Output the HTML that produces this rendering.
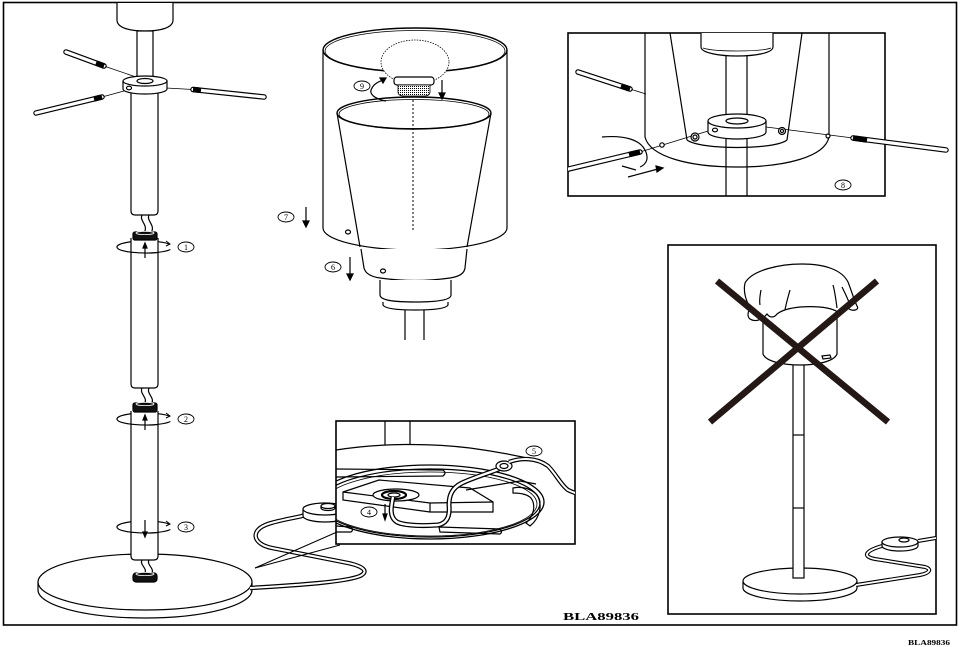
<!DOCTYPE html>
<html><head><meta charset="utf-8"><style>
html,body{margin:0;padding:0;background:#fff;}
svg{display:block;}
.t{font-family:"Liberation Serif",serif;}
</style></head><body>
<svg width="960" height="647" viewBox="0 0 960 647" xmlns="http://www.w3.org/2000/svg">
<defs>
<pattern id="dots" width="2" height="2" patternUnits="userSpaceOnUse"><rect width="2" height="2" fill="#fff"/><rect width="1" height="1" fill="#000"/></pattern>
<clipPath id="cB"><rect x="336" y="421" width="239" height="123"/></clipPath>
<clipPath id="cTR"><rect x="568" y="33" width="317" height="163"/></clipPath>
<clipPath id="cX"><rect x="668" y="245" width="268" height="369"/></clipPath>
</defs>
<rect width="960" height="647" fill="#fff"/>
<!-- outer frame -->
<rect x="3.5" y="2.5" width="953" height="622.5" fill="none" stroke="#000" stroke-width="1.6"/>

<g stroke="#000" stroke-width="1.2" fill="none">
<!-- ===== LEFT COLUMN ===== -->
<path d="M117,3 V20 C117,28 130,31 145,31 C160,31 173,28 173,20 V3" fill="#fff"/>
<rect x="137" y="31" width="16" height="48" fill="#fff"/>
<line x1="104" y1="66" x2="136" y2="77" stroke-width="0.8"/>
<line x1="102" y1="97" x2="124" y2="91" stroke-width="0.8"/>
<line x1="166" y1="88" x2="193" y2="89.5" stroke-width="0.8"/>
<g stroke-linecap="round">
<line x1="66" y1="52" x2="104" y2="66" stroke-width="5.5"/><line x1="66" y1="52" x2="104" y2="66" stroke="#fff" stroke-width="3.2"/>
<line x1="36" y1="113" x2="102" y2="97" stroke-width="5.5"/><line x1="36" y1="113" x2="102" y2="97" stroke="#fff" stroke-width="3.2"/>
<line x1="193" y1="89.5" x2="264" y2="97" stroke-width="5.5"/><line x1="193" y1="89.5" x2="264" y2="97" stroke="#fff" stroke-width="3.2"/>
</g>
<line x1="96" y1="63" x2="104" y2="66" stroke-width="5.5"/>
<line x1="94" y1="99" x2="102" y2="97" stroke-width="5.5"/>
<line x1="193" y1="89.5" x2="201" y2="90.4" stroke-width="5.5"/>
<!-- tube 1 -->
<path d="M131,93 V211 Q131,215 135,215 H154 Q158,215 158,211 V93" fill="#fff"/>
<!-- collar -->
<path d="M123,81 V89 A22,5 0 0 0 167,89 V81" fill="#fff"/>
<ellipse cx="145" cy="81" rx="22" ry="5" fill="#fff"/>
<ellipse cx="145" cy="81" rx="8" ry="2.5"/>
<ellipse cx="129" cy="88" rx="2.5" ry="1.8"/>
<!-- wire 1 -->
<path d="M142,215 C139,221 149,225 144,233"/><path d="M149,215 C146,221 156,225 151,233"/>
<!-- rotation arcs (behind tubes) -->
<path d="M169.2,244 A28,6 0 1 0 170.4,249.5"/>
<path d="M169.2,416 A28,6 0 1 0 170.4,421.5"/>
<!-- tube 2 -->
<path d="M131,238 V384 Q131,388 135,388 H154 Q158,388 158,384 V238" fill="#fff"/>
<rect x="133" y="232" width="24" height="8" rx="2" fill="#111"/>
<ellipse cx="145" cy="233" rx="9" ry="1.6" stroke="#fff" stroke-width="0.8"/>
<path d="M131,252.2 Q145,253.8 158,252.5"/>
<path d="M166,241 L170,244 L166,246" stroke-width="1"/>
<line x1="145" y1="258" x2="145" y2="247"/><polygon points="143,248 145,243 147,248" fill="#000"/>
<!-- wire 2 -->
<path d="M142,388 C139,394 149,398 144,404"/><path d="M149,388 C146,394 156,398 151,404"/>
<!-- base -->
<path d="M38,582 V590 A107,28 0 0 0 252,590 V582" fill="#fff"/>
<ellipse cx="145" cy="582" rx="107" ry="28" fill="#fff"/>
<path d="M169.2,524 A28,6 0 1 0 170.4,529.5"/>
<!-- tube 3 -->
<path d="M131,411 V556 Q131,560 135,560 H154 Q158,560 158,556 V411" fill="#fff"/>
<rect x="133" y="403" width="24" height="9" rx="2" fill="#111"/>
<ellipse cx="145" cy="404" rx="9" ry="1.6" stroke="#fff" stroke-width="0.8"/>
<path d="M131,424.2 Q145,425.8 158,424.5"/>
<path d="M166,413 L170,416 L166,418" stroke-width="1"/>
<line x1="145" y1="430" x2="145" y2="419"/><polygon points="143,420 145,415 147,420" fill="#000"/>
<path d="M131,532.2 Q145,533.8 158,532.5"/>
<path d="M166,521 L170,524 L166,526" stroke-width="1"/>
<line x1="145" y1="520" x2="145" y2="533"/><polygon points="143,532 145,537 147,532" fill="#000"/>
<!-- wire 3 + cap -->
<path d="M142,560 C139,565 149,569 144,574"/><path d="M149,560 C146,565 156,569 151,574"/>
<rect x="133" y="573" width="24" height="9" rx="3" fill="#111"/>
<ellipse cx="145" cy="574" rx="9" ry="1.6" stroke="#fff" stroke-width="0.8"/>
<!-- cable to switch -->
<path d="M250,588 C300,585 345,582 360,576 C370,571 362,566 348,563 L272,548 C252,544 250,530 268,524 C280,520 295,518 306,515" stroke-width="4.4"/>
<path d="M250,588 C300,585 345,582 360,576 C370,571 362,566 348,563 L272,548 C252,544 250,530 268,524 C280,520 295,518 306,515" stroke="#fff" stroke-width="2"/>
<!-- switch -->
<path d="M303,509 V516 A22,6 0 0 0 347,516 V509" fill="#fff"/>
<ellipse cx="325" cy="509" rx="22" ry="6" fill="#fff"/>
<path d="M321,506 V508 A7,2.5 0 0 0 335,508 V506" fill="#fff"/>
<ellipse cx="328" cy="506" rx="7" ry="2.5" fill="#fff"/>
<line x1="255" y1="568" x2="337" y2="532" stroke-width="1"/>
<line x1="255" y1="568" x2="340" y2="545" stroke-width="1"/>

<!-- ===== BOTTOM INSET ===== -->
<rect x="336" y="421" width="239" height="123" fill="#fff" stroke-width="1.6"/>
<g clip-path="url(#cB)">
<line x1="385" y1="421" x2="385" y2="445"/><line x1="410" y1="421" x2="410" y2="445"/>
<path d="M336,450 C380,443 430,443 470,448 C500,452 520,456 545,462"/>
<ellipse cx="430" cy="502" rx="114" ry="37" stroke-width="1.3"/>
<ellipse cx="430" cy="503" rx="110" ry="34"/>
<ellipse cx="430" cy="504" rx="107" ry="32" stroke-width="0.8"/>
<path d="M336,469 L443,470 Q447,473 443,476 L336,477"/>
<path d="M513,488 C522,486 532,489 537,495 C543,505 540,518 530,526 L526,523 C534,516 536,505 531,498 C527,494 520,493 513,493 Z"/>
<path d="M439,527 L500,529 Q503,532 500,534 L440,532 Z"/>
<path d="M336,526 L351,527 Q354,530 351,532 L336,532"/>
<polygon points="343,492 379,480 470,488 493,502 493,512 430,512 343,500" fill="#fff"/>
<path d="M343,492 L430,503 L493,502 M430,503 V512"/>
<path d="M466,490 L520,481 L536,484"/>
<ellipse cx="396" cy="495" rx="23" ry="6" fill="#fff"/>
<ellipse cx="394" cy="495" rx="12" ry="4" fill="#fff" stroke-width="2.2"/>
<ellipse cx="394" cy="495" rx="6" ry="2"/>
<path d="M393,497 C391,507 389,517 397,522 C405,526 425,526 438,525 C448,523 450,515 449,505 C449,495 452,488 462,483 C475,477 492,472 504,467" stroke-width="5"/>
<path d="M393,497 C391,507 389,517 397,522 C405,526 425,526 438,525 C448,523 450,515 449,505 C449,495 452,488 462,483 C475,477 492,472 504,467" stroke="#fff" stroke-width="2.4"/>
<ellipse cx="504" cy="466" rx="8" ry="5" fill="#fff"/>
<ellipse cx="504" cy="466" rx="4" ry="2.5"/>
<path d="M509,462 C520,458 536,457 548,466 C556,474 561,485 568,490 C572,492 575,493 578,494" stroke-width="4.4"/>
<path d="M509,462 C520,458 536,457 548,466 C556,474 561,485 568,490 C572,492 575,493 578,494" stroke="#fff" stroke-width="2"/>
<line x1="385" y1="504" x2="385" y2="515"/><polygon points="383,514 385,520 387,514" fill="#000"/>
</g>

<!-- ===== CENTER LAMP ===== -->
<path d="M323,50 V228 A92,22 0 0 0 507,228 V50" fill="#fff"/>
<ellipse cx="415" cy="50" rx="92" ry="22" stroke-width="1.4"/>
<ellipse cx="415" cy="51" rx="90" ry="20.5" stroke-width="0.8"/>
<ellipse cx="415" cy="62" rx="34" ry="22" fill="#fff" stroke-width="0.8" stroke-dasharray="1.5 1.2"/>
<line x1="337" y1="113" x2="360" y2="247"/>
<line x1="491" y1="113" x2="467" y2="247"/>
<ellipse cx="414" cy="113" rx="77" ry="16" stroke-width="1.4"/>
<ellipse cx="414" cy="114" rx="75" ry="14.5" stroke-width="0.8"/>
<rect x="394" y="77" width="40" height="8" rx="3" fill="#fff"/>
<path d="M398,85 H430 V92 Q430,96 424,96 H404 Q398,96 398,92 Z" fill="url(#dots)" stroke-width="0.8"/>
<line x1="413" y1="100" x2="413" y2="230" stroke-dasharray="2 2" stroke-width="1"/>
<path d="M361,249 L364,268 Q366,276 380,278 Q415,283 450,278 Q464,276 465,268 L467,249" fill="#fff"/>
<path d="M380,280 V295 C380,300 392,302 415,302 C438,302 451,300 451,295 V280" fill="#fff"/>
<path d="M383,302 V305 C385,309 400,310 415,310 C430,310 446,309 448,305 V302"/>
<line x1="405" y1="310" x2="405" y2="340"/><line x1="424" y1="310" x2="424" y2="340"/>
<ellipse cx="348" cy="232" rx="2.5" ry="2"/>
<ellipse cx="383" cy="271" rx="2.5" ry="2"/>
<path d="M386,101 C375,99 368,94 372,88 C374,84 378,82 383,80"/>
<polygon points="380,78 386,78 383,83" fill="#000"/>
<line x1="442" y1="80" x2="442" y2="94"/><polygon points="439,93 442,99 445,93" fill="#000"/>
<line x1="306" y1="207" x2="306" y2="222"/><polygon points="303,221 306,227 309,221" fill="#000"/>
<line x1="350" y1="257" x2="350" y2="275"/><polygon points="347,274 350,280 353,274" fill="#000"/>

<!-- ===== TOP RIGHT INSET ===== -->
<rect x="568" y="33" width="317" height="163" fill="#fff" stroke-width="1.6"/>
<g clip-path="url(#cTR)">
<path d="M645,33 V137 C650,157 690,167 737,167 C785,167 825,157 829,137 V33"/>
<line x1="670" y1="33" x2="687" y2="140"/><line x1="802" y1="33" x2="787" y2="140"/>
<path d="M687,140 C700,150 775,150 787,140"/>
<path d="M701,33 V47 C701,53 720,56 737,56 C755,56 773,53 773,47 V33" fill="#fff"/>
<path d="M703,48 C715,52 760,52 771,48" stroke-width="0.8"/>
<line x1="726" y1="56" x2="726" y2="118"/><line x1="747" y1="56" x2="747" y2="118"/>
<line x1="726" y1="137" x2="726" y2="196"/><line x1="747" y1="137" x2="747" y2="196"/>
<line x1="630" y1="89" x2="646" y2="94" stroke-width="0.8"/>
<line x1="640" y1="152" x2="708" y2="131" stroke-width="0.8"/>
<line x1="766" y1="127" x2="853" y2="138" stroke-width="0.8"/>
<path d="M708,121 V132 A29,7 0 0 0 766,132 V121" fill="#fff"/>
<ellipse cx="737" cy="121" rx="29" ry="7" fill="#fff"/>
<ellipse cx="737" cy="121" rx="11" ry="3"/>
<ellipse cx="715" cy="130" rx="2.5" ry="1.8"/>
<circle cx="662" cy="145" r="2.2" fill="#fff"/>
<circle cx="695" cy="137" r="4" fill="#fff"/><circle cx="695" cy="137" r="2"/>
<circle cx="782" cy="131" r="3.5" fill="#fff"/><circle cx="782" cy="131" r="1.6"/>
<circle cx="828" cy="136" r="2" fill="#fff"/>
<g stroke-linecap="round">
<line x1="578" y1="72" x2="630" y2="89" stroke-width="5.5"/><line x1="578" y1="72" x2="630" y2="89" stroke="#fff" stroke-width="3.2"/>
<line x1="556" y1="172" x2="640" y2="152" stroke-width="5.5"/><line x1="556" y1="172" x2="640" y2="152" stroke="#fff" stroke-width="3.2"/>
</g>
<line x1="621" y1="86" x2="630" y2="89" stroke-width="5.5"/>
<line x1="629" y1="154.6" x2="640" y2="152" stroke-width="5.5"/>
<path d="M602,137 C625,135 640,140 645,150 C649,158 647,164 640,167"/>
<path d="M622,166 L636,170"/>
<path d="M628,177 L658,169"/><polygon points="656,166 663,168 657,172" fill="#000"/>
</g>
<g stroke-linecap="round">
<line x1="853" y1="138" x2="946" y2="150" stroke-width="5.5"/><line x1="853" y1="138" x2="946" y2="150" stroke="#fff" stroke-width="3.2"/>
</g>
<line x1="853" y1="138" x2="867" y2="140" stroke-width="5.5"/>

<!-- ===== X INSET ===== -->
<rect x="668" y="245" width="268" height="369" fill="#fff" stroke-width="1.6"/>
<g clip-path="url(#cX)">
<path d="M743,581 V588 A57,13 0 0 0 857,588 V581" fill="#fff"/>
<ellipse cx="800" cy="581" rx="57" ry="13" fill="#fff"/>
<path d="M882,546 C868,550 860,556 875,559 L925,567 C932,569 930,573 920,575 L856,585" stroke-width="4"/>
<path d="M882,546 C868,550 860,556 875,559 L925,567 C932,569 930,573 920,575 L856,585" stroke="#fff" stroke-width="1.8"/>
<path d="M918,541 L936,538" stroke-width="4"/><path d="M918,541 L936,538" stroke="#fff" stroke-width="1.8"/>
<path d="M882,542 V546 A18,5 0 0 0 918,546 V542" fill="#fff"/>
<ellipse cx="900" cy="542" rx="18" ry="5" fill="#fff"/>
<ellipse cx="904" cy="540" rx="5" ry="2" fill="#fff"/>
<rect x="793" y="362" width="11" height="216" fill="#fff"/>
<line x1="793" y1="435" x2="804" y2="435"/><line x1="793" y1="508" x2="804" y2="508"/>
<path d="M763,310 V354 C766,362 785,365 800,365 C815,365 834,362 837,354 V310" fill="#fff"/>
<path d="M745,283 C752,270 780,264 802,264 C825,264 842,270 848,282 C852,292 854,300 857,306 C860,310 852,312 848,308 C845,304 842,310 838,312 C830,307 815,306 800,307 C790,308 782,310 777,314 C774,318 770,318 767,314 C764,318 758,322 752,320 C746,318 748,312 750,308 C746,300 743,292 745,283 Z" fill="#fff"/>
<path d="M761,290 C760,296 759,300 760,305"/>
<path d="M790,290 C788,297 786,304 785,310"/>
<path d="M833,285 C835,292 836,300 837,308"/>
<path d="M842,287 C845,293 848,299 850,305"/>
<path d="M822,356 L830,355 L831,358 L823,359 Z"/>
</g>
<g stroke="#231815" stroke-width="6.5" stroke-linecap="butt">
<line x1="717" y1="281" x2="888" y2="422"/>
<line x1="877" y1="281" x2="710" y2="422"/>
</g>

<!-- circled labels -->
<g stroke-width="0.9">
<ellipse cx="186" cy="247" rx="8" ry="5"/>
<ellipse cx="186" cy="419" rx="8" ry="5"/>
<ellipse cx="186" cy="527" rx="8" ry="5"/>
<ellipse cx="369" cy="512" rx="8" ry="5"/>
<ellipse cx="534" cy="451" rx="8" ry="5"/>
<ellipse cx="333" cy="267" rx="8" ry="5"/>
<ellipse cx="286" cy="217" rx="8" ry="5"/>
<ellipse cx="843" cy="185" rx="8" ry="5"/>
<ellipse cx="362" cy="86" rx="8" ry="5"/>
</g>
</g>
<g class="t" font-size="8" text-anchor="middle" fill="#000">
<text x="186" y="250">1</text>
<text x="186" y="422">2</text>
<text x="186" y="530">3</text>
<text x="369" y="515">4</text>
<text x="534" y="454">5</text>
<text x="333" y="270">6</text>
<text x="286" y="220">7</text>
<text x="843" y="188">8</text>
<text x="362" y="89">9</text>
</g>
<text class="t" x="563" y="620" font-size="11" font-weight="bold" textLength="76" lengthAdjust="spacingAndGlyphs">BLA89836</text>
<text class="t" x="908" y="645" font-size="7" font-weight="bold" textLength="42" lengthAdjust="spacingAndGlyphs">BLA89836</text>
</svg>
</body></html>
